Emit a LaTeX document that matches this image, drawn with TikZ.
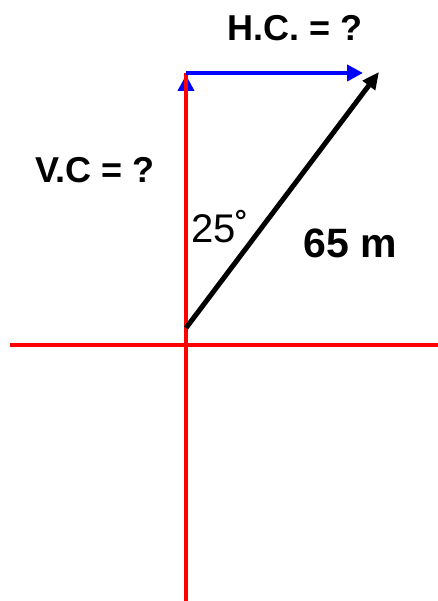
\documentclass[tikz,border=0pt]{standalone}
\usepackage{fontspec}
\setmainfont{Liberation Sans}
\usetikzlibrary{arrows.meta}
\tikzset{
  axis/.style={draw=red, line width=4.5pt},
  bluevec/.style={draw=blue, line width=4.5pt, -{Triangle[length=16pt,width=16pt]}},
  blackvec/.style={draw=black, line width=5pt, -{Triangle[length=17pt,width=15pt]}},
  boldlab/.style={font=\fontsize{36}{40}\selectfont\bfseries, inner sep=0pt},
  anglab/.style={font=\fontsize{40}{44}\selectfont, inner sep=0pt}
}
\begin{document}
\begin{tikzpicture}[x=1pt,y=-1pt]
\useasboundingbox (0,0) rectangle (438,601);
\coordinate (O) at (186,328);
\coordinate (Top) at (186,73);
\coordinate (TopV) at (186,75);
\coordinate (Tip) at (379,72);
\coordinate (HTip) at (363,73);
\coordinate (L) at (10,345);
\coordinate (R) at (438,345);
\coordinate (B) at (186,601);
% vertical component (blue) under red axis
\draw[bluevec] (O) -- (TopV);
% axes
\draw[axis] (L) -- (R);
\draw[axis] (B) -- (Top);
% horizontal component
\draw[bluevec] (Top) -- (HTip);
% resultant
\draw[blackvec] (O) -- (Tip);
% labels
\node[boldlab] (hc) at (295,28) {H.C. = ?};
\node[boldlab] (vc) at (95,170) {V.C = ?};
\node[anglab] (ang) at (220,227) {25˚};
\node[boldlab, font=\fontsize{41}{44}\selectfont\bfseries] (len) at (350,243) {65 m};
\end{tikzpicture}
\end{document}
